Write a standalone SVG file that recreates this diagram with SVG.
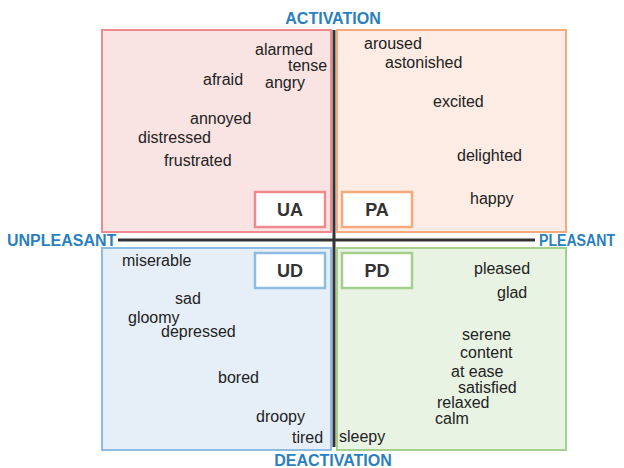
<svg xmlns="http://www.w3.org/2000/svg" width="624" height="468" viewBox="0 0 624 468">
<style>
.w{font-family:"Liberation Sans",Arial,sans-serif;font-size:16px;fill:#222}
.ax{font-family:"Liberation Sans",Arial,sans-serif;font-size:16px;font-weight:bold;fill:#2a7fc0}
.lb{font-family:"Liberation Sans",Arial,sans-serif;font-size:18px;font-weight:bold;fill:#333;text-anchor:middle}
.q{stroke-width:2}
.bx{fill:#fff;stroke-width:2.5}
</style>
<rect width="624" height="468" fill="#fff"/>
<g id="UA">
<rect class="q" x="102" y="30" width="229" height="202" fill="#f9e3e3" stroke="#f08a8e"/>
<rect class="bx" x="255" y="192" width="70" height="35" stroke="#f08a8e"/>
<text class="lb" x="290" y="216">UA</text>
<text class="w" x="255" y="55">alarmed</text>
<text class="w" x="288" y="71">tense</text>
<text class="w" x="203" y="85">afraid</text>
<text class="w" x="265" y="88">angry</text>
<text class="w" x="190" y="124">annoyed</text>
<text class="w" x="138" y="143">distressed</text>
<text class="w" x="164" y="166">frustrated</text>
</g>
<g id="PA">
<rect class="q" x="337" y="30" width="229" height="202" fill="#fcece4" stroke="#f5aa7e"/>
<rect class="bx" x="342" y="192" width="70" height="35" stroke="#f5aa7e"/>
<text class="lb" x="377" y="216">PA</text>
<text class="w" x="364" y="49">aroused</text>
<text class="w" x="385" y="68">astonished</text>
<text class="w" x="433" y="107">excited</text>
<text class="w" x="457" y="161">delighted</text>
<text class="w" x="470" y="204">happy</text>
</g>
<g id="UD">
<rect class="q" x="102" y="248" width="229" height="202" fill="#e6eff7" stroke="#8dbbe2"/>
<rect class="bx" x="255" y="253" width="70" height="35" stroke="#8dbbe2"/>
<text class="lb" x="290" y="277">UD</text>
<text class="w" x="122" y="266">miserable</text>
<text class="w" x="175" y="304">sad</text>
<text class="w" x="128" y="323">gloomy</text>
<text class="w" x="161" y="337">depressed</text>
<text class="w" x="218" y="383">bored</text>
<text class="w" x="256" y="422">droopy</text>
<text class="w" x="292" y="443">tired</text>
</g>
<g id="PD">
<rect class="q" x="337" y="248" width="229" height="202" fill="#e9f3e4" stroke="#a4d08e"/>
<rect class="bx" x="342" y="253" width="70" height="35" stroke="#a4d08e"/>
<text class="lb" x="377" y="277">PD</text>
<text class="w" x="339" y="442">sleepy</text>
<text class="w" x="474" y="274">pleased</text>
<text class="w" x="497" y="298">glad</text>
<text class="w" x="462" y="340">serene</text>
<text class="w" x="460" y="358">content</text>
<text class="w" x="451" y="377">at ease</text>
<text class="w" x="458" y="393">satisfied</text>
<text class="w" x="437" y="408">relaxed</text>
<text class="w" x="435" y="424">calm</text>
</g>
<g id="connectors" stroke="#333" stroke-width="3">
<line x1="334" y1="30" x2="334" y2="447"/>
<line x1="118" y1="240" x2="535" y2="240"/>
</g>
<g id="axis-labels">
<text class="ax" x="333" y="24" text-anchor="middle">ACTIVATION</text>
<text class="ax" x="333" y="466" text-anchor="middle">DEACTIVATION</text>
<text class="ax" x="7" y="246">UNPLEASANT</text>
<text class="ax" x="539" y="246" font-size="15" textLength="76" lengthAdjust="spacingAndGlyphs">PLEASANT</text>
</g>
</svg>
